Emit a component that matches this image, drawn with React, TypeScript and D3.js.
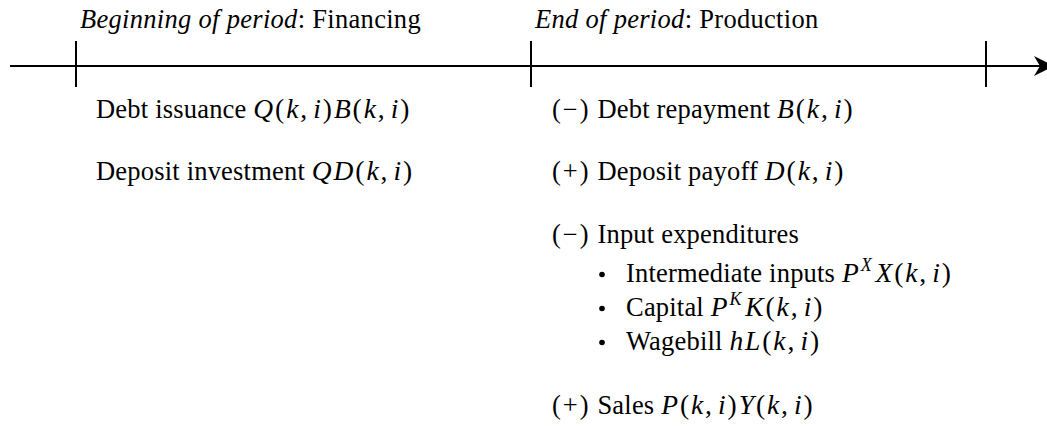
import * as d3 from "d3";

// segments: r = roman text, m = math (letters italic, symbols upright), sup = math superscript
type Seg = [string, "r" | "m" | "sup"];

const periods = ["Beginning of period", "End of period"];
const periodLabels = ["Financing", "Production"];
const tickIndex = [0, 1, 2];

const leftItems: Seg[][] = [
  [["Debt issuance ", "r"], ["Q(k,i)B(k,i)", "m"]],
  [["Deposit investment ", "r"], ["QD(k,i)", "m"]],
];

const rightItems: Seg[][] = [
  [["(\u2212) Debt repayment ", "r"], ["B(k,i)", "m"]],
  [["(+) Deposit payoff ", "r"], ["D(k,i)", "m"]],
  [["(\u2212) Input expenditures", "r"]],
  [["Intermediate inputs ", "r"], ["P", "m"], ["X", "sup"], ["X(k,i)", "m"]],
  [["Capital ", "r"], ["P", "m"], ["K", "sup"], ["K(k,i)", "m"]],
  [["Wagebill ", "r"], ["hL(k,i)", "m"]],
  [["(+) Sales ", "r"], ["P(k,i)Y(k,i)", "m"]],
];
const rightIsBullet = [false, false, false, true, true, true, false];

const W = 1047;
const H = 426;
const FONT = "Liberation Serif, serif";
const FS = 26.5;
const MS = 27.5;

function renderSegs(segs: Seg[]) {
  const out: JSX.Element[] = [];
  let key = 0;
  segs.forEach(([txt, s]) => {
    if (s === "r") {
      // wider brackets/sign like the TeX original
      const parts = txt.match(/^\([^)]*\)|.+/g) || [];
      parts.forEach((p) => {
        out.push(
          <tspan key={key++} fontSize={FS} letterSpacing={p.startsWith("(") ? 2 : 0.2}>
            {p}
          </tspan>
        );
      });
    } else if (s === "sup") {
      out.push(
        <tspan key={key++} fontStyle="italic" fontSize={18} dy={-11} letterSpacing={1.5}>
          {txt}
        </tspan>
      );
      out.push(
        <tspan key={key++} fontSize={MS} dy={11}>
          {"\u200A"}
        </tspan>
      );
    } else {
      // split math into letters vs symbols
      const parts = txt.match(/[A-Za-z]+|[^A-Za-z]+/g) || [];
      parts.forEach((p) => {
        const isLetter = /[A-Za-z]/.test(p);
        out.push(
          <tspan key={key++} fontStyle={isLetter ? "italic" : "normal"} fontSize={MS} letterSpacing={1.9}>
            {p.replace(",", ",\u200A")}
          </tspan>
        );
      });
    }
  });
  return out;
}

export default function App() {
  const x = d3.scaleLinear().domain([0, 2]).range([76, 986]);
  const axisY = 66;
  const leftY = d3.scaleOrdinal<number, number>().domain([0, 1]).range([118, 180]);
  const rightY = [118, 180, 243, 282, 316, 350, 414];
  const ts = { fontFamily: FONT };

  return (
    <svg width={W} height={H} style={{ position: "absolute", left: 0, top: 0, background: "#fff" }}>
      <line x1={10} x2={1040} y1={axisY} y2={axisY} stroke="#000" strokeWidth={2} />
      <path d={`M1034,${axisY - 10} L1054,${axisY} L1034,${axisY + 10} L1040,${axisY} Z`} fill="#000" />
      {tickIndex.map((t) => (
        <line key={t} x1={x(t)} x2={x(t)} y1={axisY - 25} y2={axisY + 21} stroke="#000" strokeWidth={2} />
      ))}
      {periods.map((p, i) => (
        <text key={p} x={x(i) + 4} y={28} fontSize={FS} fill="#000" style={ts} letterSpacing={0.3}>
          <tspan fontStyle="italic">{p}</tspan>
          <tspan>{": " + periodLabels[i]}</tspan>
        </text>
      ))}
      {leftItems.map((segs, i) => (
        <text key={"l" + i} x={x(0) + 20} y={leftY(i)} fill="#000" style={ts}>
          {renderSegs(segs)}
        </text>
      ))}
      {rightItems.map((segs, i) => (
        <g key={"r" + i}>
          {rightIsBullet[i] && (
            <circle cx={x(1) + 71} cy={rightY[i] - 7.5} r={2.8} fill="#000" />
          )}
          <text x={x(1) + (rightIsBullet[i] ? 95 : 21)} y={rightY[i]} fill="#000" style={ts}>
            {renderSegs(segs)}
          </text>
        </g>
      ))}
    </svg>
  );
}
